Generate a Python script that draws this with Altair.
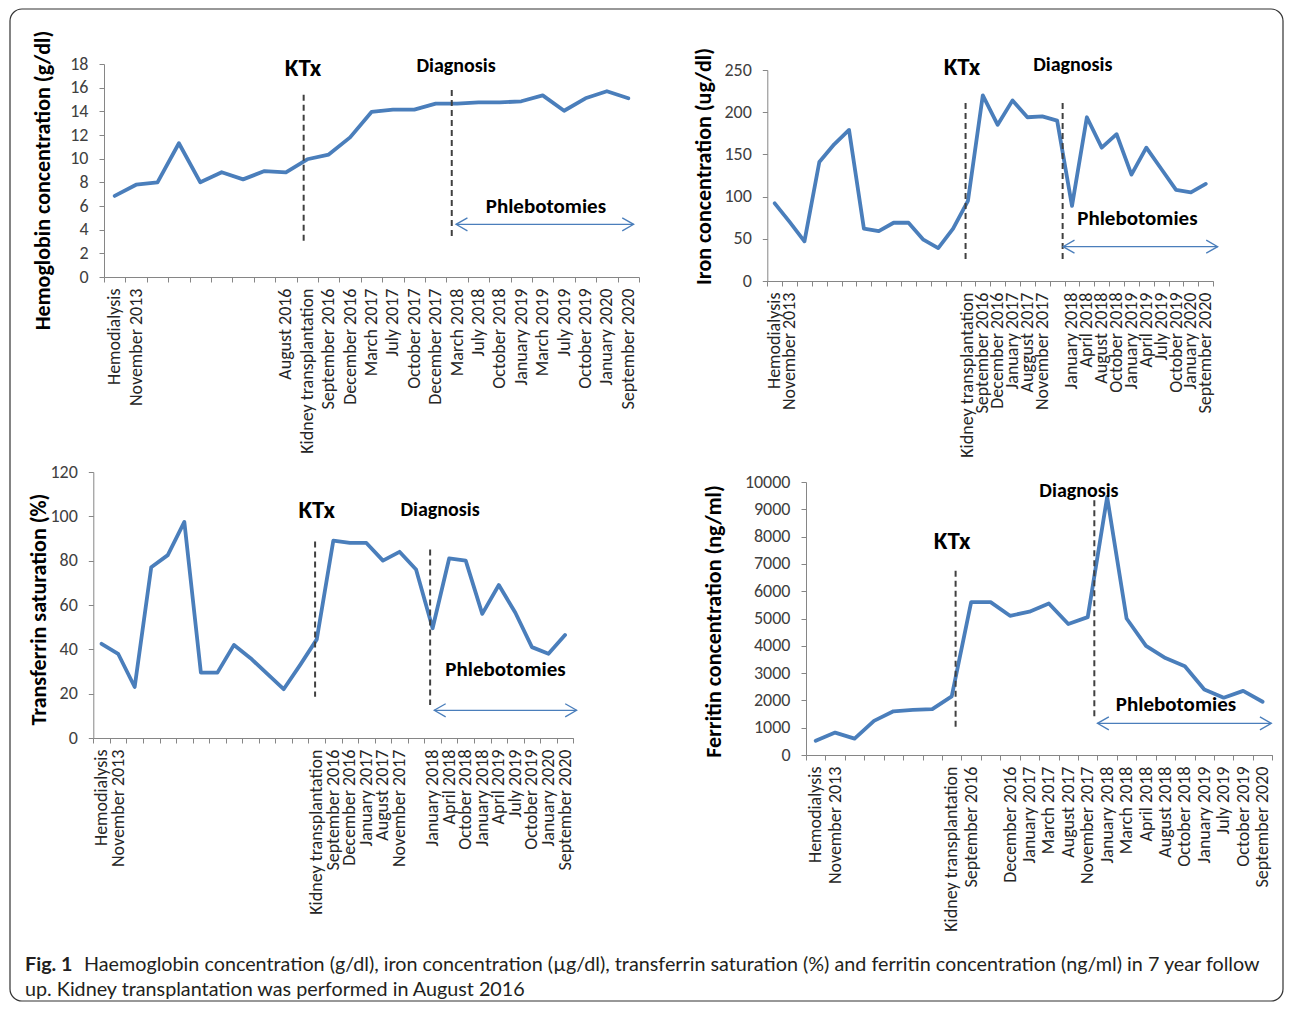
import json
import altair as alt
import pandas as pd

# ---------------- data ----------------
hb_labels = ["Hemodialysis", "November 2013", "", "", "", "", "", "", "August 2016",
             "Kidney transplantation", "September 2016", "December 2016", "March 2017",
             "July 2017", "October 2017", "December 2017", "March 2018", "July 2018",
             "October 2018", "January 2019", "March 2019", "July 2019", "October 2019",
             "January 2020", "September 2020"]
hb_values = [6.85, 7.8, 8.0, 11.3, 8.0, 8.85, 8.25, 8.95, 8.85, 9.95, 10.35, 11.8, 13.95,
             14.15, 14.15, 14.65, 14.65, 14.75, 14.75, 14.85, 15.35, 14.05, 15.1, 15.7, 15.1]

fe_labels = ["Hemodialysis", "November 2013", "", "", "", "", "", "", "", "", "", "", "",
             "Kidney transplantation", "September 2016", "December 2016", "January 2017",
             "Auggust 2017", "November 2017", "", "January 2018", "April 2018", "August 2018",
             "October 2018", "January 2019", "April 2019", "July 2019", "October 2019",
             "January 2020", "September 2020"]
fe_values = [92, 70, 47, 141, 162, 179, 62, 59, 69, 69, 49, 39, 62, 95, 220, 185, 214, 194,
             195, 190, 89, 194, 158, 174, 126, 158, 133, 108, 105, 115]

ts_labels = ["Hemodialysis", "November 2013", "", "", "", "", "", "", "", "", "", "", "",
             "Kidney transplantation", "September 2016", "December 2016", "January 2017",
             "August 2017", "November 2017", "", "January 2018", "April 2018", "October 2018",
             "January 2018", "April 2019", "July 2019", "October 2019", "January 2020",
             "September 2020"]
ts_values = [42.5, 38, 23, 77, 82.5, 97.5, 29.5, 29.5, 42, 36, 29, 22, 33, 44.5, 89, 88, 88,
             80, 84, 76, 49.5, 81, 80, 56, 69, 56.5, 41, 38, 46.5]

fr_labels = ["Hemodialysis", "November 2013", "", "", "", "", "", "Kidney transplantation",
             "September 2016", "", "December 2016", "January 2017", "March 2017",
             "August 2017", "November 2017", "January 2018", "March 2018", "April 2018",
             "August 2018", "October 2018", "January 2019", "July 2019", "October 2019",
             "September 2020"]
fr_values = [520, 820, 600, 1250, 1600, 1650, 1680, 2150, 5600, 5600, 5100, 5250, 5550, 4800,
             5050, 9450, 5000, 4000, 3550, 3250, 2400, 2100, 2350, 1950]

# event annotations (x in category units from the left edge, y in data units)
hb_events = {"kt": [9.33, 15.4, 2.8], "dg": [16.25, 15.8, 3.2], "arrow": [16.45, 24.75, 4.45],
             "text": [[9.3, 17.7], [16.45, 17.8], [20.65, 5.95]]}
fe_events = {"kt": [13.34, 211, 25], "dg": [19.87, 211, 24], "arrow": [19.9, 30.3, 40.7],
             "text": [[13.1, 254], [20.55, 256], [24.9, 74]]}
ts_events = {"kt": [13.4, 88.7, 18.6], "dg": [20.35, 85, 14.9], "arrow": [20.6, 29.2, 12.5],
             "text": [[13.5, 103], [20.95, 103], [24.9, 30.5]]}
fr_events = {"kt": [7.7, 6750, 1000], "dg": [14.84, 9330, 1410], "arrow": [15.0, 23.95, 1160],
             "text": [[7.52, 7850], [14.05, 9660], [19.04, 1820]]}

event_names = ["KTx", "Diagnosis", "Phlebotomies"]
event_sizes = [25, 20, 21]

caption_bold = "Fig. 1"
caption_1 = ("Haemoglobin concentration (g/dl), iron concentration (\u00b5g/dl), transferrin "
             "saturation (%) and ferritin concentration (ng/ml) in 7 year follow")
caption_2 = "up. Kidney transplantation was performed in August 2016"

# ---------------- style ----------------
W, H = 1276, 994
M = 8
FONT = "Carlito, Lato, sans-serif"
CAP_FONT = "Lato, sans-serif"
BLUE = "#4a7ebb"
GRAY = "#868686"
LAB = "#404040"
LEFT_HEAD = "M1.75,-1L0,0L1.75,1"
RIGHT_HEAD = "M-1.75,-1L0,0L-1.75,1"


def panel(labels, values, ymax, ystep, x0, x1, yb, yt, title, tx, ty, ev):
    n = len(labels)
    df = pd.DataFrame({"pos": [i + 0.5 for i in range(n)], "value": values})
    xs = alt.Scale(domain=[0, n], range=[x0 - M, x1 - M], nice=False, zero=False)
    ys = alt.Scale(domain=[0, ymax], range=[yb - M, yt - M], nice=False, zero=False)
    boff = (yb - M) - H
    loff = -(x0 - M)
    lexpr = "[" + ",".join(json.dumps(s) for s in labels) + "][floor(datum.value)]"

    x_lab_axis = alt.Axis(orient="bottom", offset=boff, values=[i + 0.5 for i in range(n)],
                          labelExpr=lexpr, labelAngle=270, ticks=False, tickSize=0,
                          domain=False, grid=False, labelPadding=11, labelFont=FONT,
                          labelFontSize=18, labelColor="#262626", labelOverlap=False,
                          labelFlush=False, title=None)
    x_tick_axis = alt.Axis(orient="bottom", offset=boff, values=list(range(n + 1)),
                           labels=False, ticks=True, tickSize=5, tickColor=GRAY,
                           domain=True, domainColor=GRAY, grid=False, title=None)
    y_axis = alt.Axis(orient="left", offset=loff, values=list(range(0, ymax + 1, ystep)),
                      format="d", tickSize=5, tickColor=GRAY, domainColor=GRAY, grid=False,
                      labelPadding=11, labelFont=FONT, labelFontSize=18, labelColor=LAB,
                      title=title, titleFont=FONT, titleFontSize=22, titleFontWeight="bold",
                      titleColor="black", titleX=tx - x0, titleY=ty - M, titleAngle=270,
                      titleAlign="center", titleBaseline="middle")

    line = alt.Chart(df).mark_line(color=BLUE, strokeWidth=3.8, strokeJoin="round",
                                   strokeCap="round").encode(
        x=alt.X("pos:Q", scale=xs, axis=x_lab_axis),
        y=alt.Y("value:Q", scale=ys, axis=y_axis))

    rdf = pd.DataFrame({"p": [ev["kt"][0], ev["dg"][0]],
                        "y1": [ev["kt"][1], ev["dg"][1]],
                        "y2": [ev["kt"][2], ev["dg"][2]]})
    rules = alt.Chart(rdf).mark_rule(color="#404040", strokeWidth=2,
                                     strokeDash=[6, 4]).encode(
        x=alt.X("p:Q", scale=xs, axis=x_tick_axis),
        y=alt.Y("y1:Q", scale=ys, axis=None), y2="y2:Q")

    tdf = pd.DataFrame({"p": [t[0] for t in ev["text"]], "y": [t[1] for t in ev["text"]],
                        "t": event_names, "fs": event_sizes})
    texts = alt.Chart(tdf).mark_text(font=FONT, fontWeight="bold", color="black",
                                     align="center", baseline="middle").encode(
        x=alt.X("p:Q", scale=xs, axis=None), y=alt.Y("y:Q", scale=ys, axis=None),
        text="t:N", size=alt.Size("fs:Q", scale=None, legend=None))

    a0, a1, ay = ev["arrow"]
    adf = pd.DataFrame({"p1": [a0], "p2": [a1], "y": [ay]})
    arrow = alt.Chart(adf).mark_rule(color=BLUE, strokeWidth=1.3).encode(
        x=alt.X("p1:Q", scale=xs, axis=None), x2="p2:Q",
        y=alt.Y("y:Q", scale=ys, axis=None))

    hdf = pd.DataFrame({"p": [a0, a1], "y": [ay, ay], "shape": [LEFT_HEAD, RIGHT_HEAD]})
    heads = alt.Chart(hdf).mark_point(filled=False, color=BLUE, strokeWidth=1.3, opacity=1,
                                      size=170).encode(
        x=alt.X("p:Q", scale=xs, axis=None), y=alt.Y("y:Q", scale=ys, axis=None),
        shape=alt.Shape("shape:N", scale=None, legend=None))
    return [line, rules, texts, arrow, heads]


layers = []
layers += panel(hb_labels, hb_values, 18, 2, 104, 639, 277, 64,
                "Hemoglobin concentration (g/dl)", 42, 180, hb_events)
layers += panel(fe_labels, fe_values, 250, 50, 767.3, 1213.2, 281, 70,
                "Iron concentration (ug/dl)", 703, 166, fe_events)
layers += panel(ts_labels, ts_values, 120, 20, 93.3, 573.3, 738, 472,
                "Transferrin saturation (%)", 38, 609, ts_events)
layers += panel(fr_labels, fr_values, 10000, 1000, 806, 1272.3, 755, 482,
                "Ferritin concentration (ng/ml)", 713, 621, fr_events)

one = pd.DataFrame({"k": [0]})
cap_b = alt.Chart(one).mark_text(font=CAP_FONT, fontSize=19.75, fontWeight="bold",
                                 color="#231f20", align="left", baseline="middle").encode(
    x=alt.value(25 - M), y=alt.value(965 - M), text=alt.value(caption_bold))
cap_1 = alt.Chart(one).mark_text(font=CAP_FONT, fontSize=19.75, color="#231f20",
                                 align="left", baseline="middle").encode(
    x=alt.value(84 - M), y=alt.value(965 - M), text=alt.value(caption_1))
cap_2 = alt.Chart(one).mark_text(font=CAP_FONT, fontSize=19.75, color="#231f20",
                                 align="left", baseline="middle").encode(
    x=alt.value(25 - M), y=alt.value(990 - M), text=alt.value(caption_2))
frame = alt.Chart(one).mark_rect(cornerRadius=12, stroke="#333333", strokeWidth=1.2,
                                 fillOpacity=0).encode(
    x=alt.value(2), x2=alt.value(W - 1), y=alt.value(1), y2=alt.value(H - 1))

layers += [cap_b, cap_1, cap_2, frame]

chart = alt.layer(*layers).resolve_scale(x="independent", y="independent").properties(
    width=W, height=H, padding=0, background="white",
    autosize=alt.AutoSizeParams(type="none")
).configure_view(strokeWidth=0)

chart.save("out.html", embed_options={"renderer": "svg", "actions": False})
